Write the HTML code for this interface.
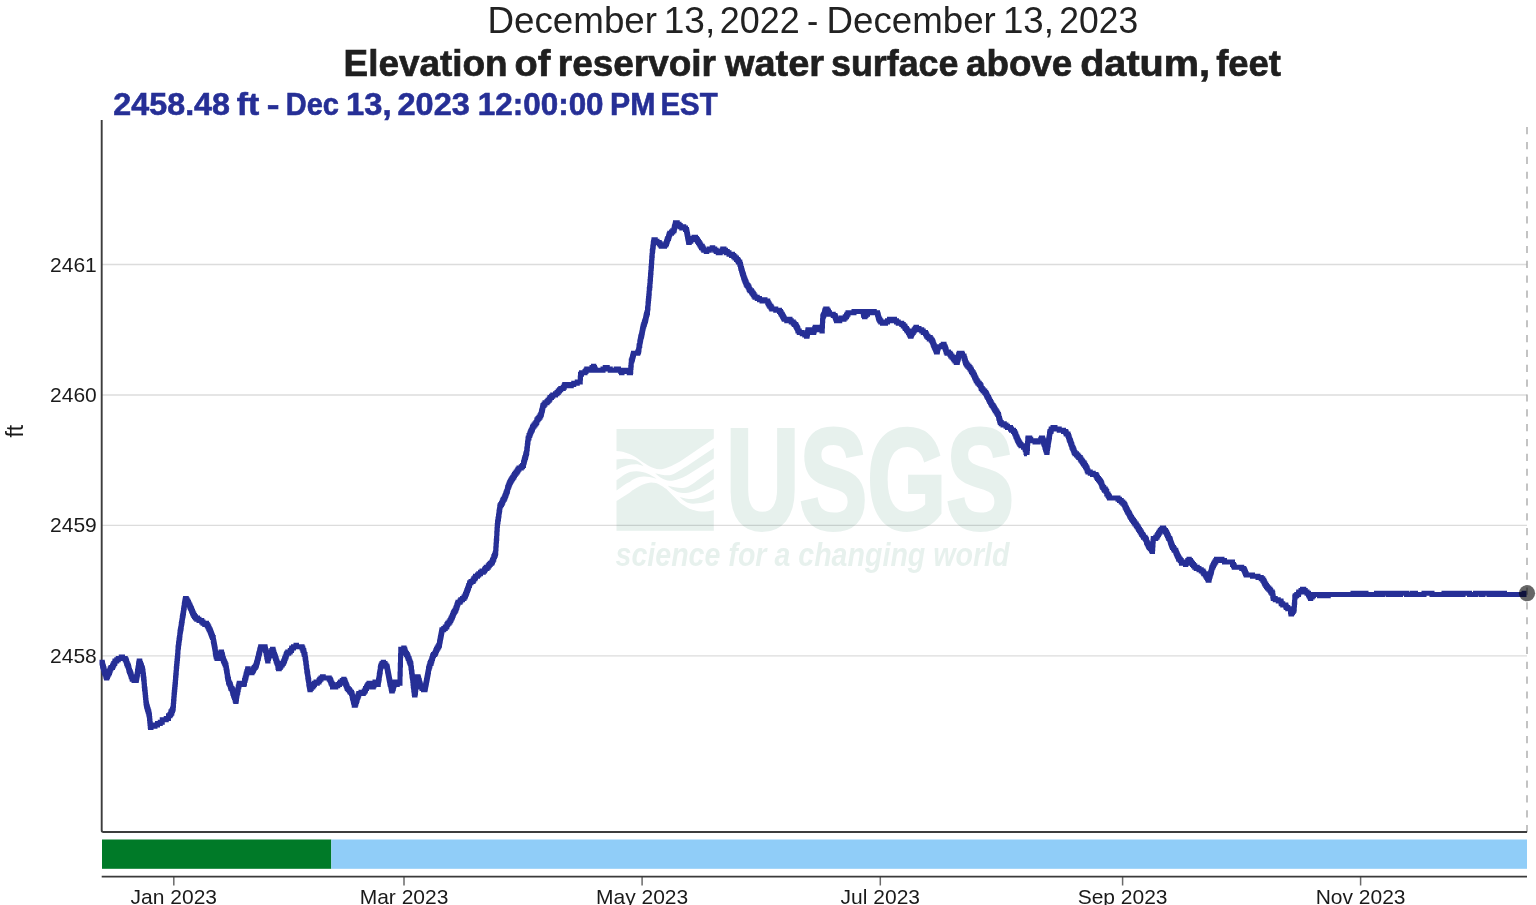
<!DOCTYPE html>
<html><head><meta charset="utf-8">
<style>
html,body{margin:0;padding:0;background:#fff;width:1536px;height:905px;overflow:hidden;}
svg{display:block;will-change:transform;font-family:"Liberation Sans",sans-serif;}
</style></head>
<body>
<svg width="1536" height="905" viewBox="0 0 1536 905">
<!-- titles -->
<g id="t1" font-size="37" font-weight="normal" fill="#222">
<text x="487.55" y="33.3" textLength="169.46" lengthAdjust="spacingAndGlyphs">December</text>
<text x="663.66" y="33.3" textLength="51.52" lengthAdjust="spacingAndGlyphs">13,</text>
<text x="719.77" y="33.3" textLength="79.87" lengthAdjust="spacingAndGlyphs">2022</text>
<text x="807.06" y="33.3" textLength="11.23" lengthAdjust="spacingAndGlyphs">-</text>
<text x="826.57" y="33.3" textLength="169.24" lengthAdjust="spacingAndGlyphs">December</text>
<text x="1002.93" y="33.3" textLength="50.94" lengthAdjust="spacingAndGlyphs">13,</text>
<text x="1059.37" y="33.3" textLength="78.86" lengthAdjust="spacingAndGlyphs">2023</text>
</g>
<g id="t2" font-size="37" font-weight="bold" fill="#1f1f1f" stroke="#1f1f1f" stroke-width="0.7">
<text x="343.56" y="75.8" textLength="164.08" lengthAdjust="spacingAndGlyphs">Elevation</text>
<text x="514.60" y="75.8" textLength="35.79" lengthAdjust="spacingAndGlyphs">of</text>
<text x="557.77" y="75.8" textLength="158.24" lengthAdjust="spacingAndGlyphs">reservoir</text>
<text x="725.00" y="75.8" textLength="98.99" lengthAdjust="spacingAndGlyphs">water</text>
<text x="830.99" y="75.8" textLength="127.43" lengthAdjust="spacingAndGlyphs">surface</text>
<text x="966.00" y="75.8" textLength="106.22" lengthAdjust="spacingAndGlyphs">above</text>
<text x="1080.15" y="75.8" textLength="129.92" lengthAdjust="spacingAndGlyphs">datum,</text>
<text x="1216.20" y="75.8" textLength="64.79" lengthAdjust="spacingAndGlyphs">feet</text>
</g>
<g id="t3" font-size="32" font-weight="bold" fill="#262f96" stroke="#262f96" stroke-width="0.6">
<text x="113.39" y="114.5" textLength="116.61" lengthAdjust="spacingAndGlyphs">2458.48</text>
<text x="236.82" y="114.5" textLength="22.39" lengthAdjust="spacingAndGlyphs">ft</text>
<text x="266.81" y="114.5" textLength="12.75" lengthAdjust="spacingAndGlyphs">-</text>
<text x="285.77" y="114.5" textLength="53.06" lengthAdjust="spacingAndGlyphs">Dec</text>
<text x="346.07" y="114.5" textLength="45.46" lengthAdjust="spacingAndGlyphs">13,</text>
<text x="397.48" y="114.5" textLength="72.32" lengthAdjust="spacingAndGlyphs">2023</text>
<text x="477.78" y="114.5" textLength="125.83" lengthAdjust="spacingAndGlyphs">12:00:00</text>
<text x="610.07" y="114.5" textLength="45.43" lengthAdjust="spacingAndGlyphs">PM</text>
<text x="660.40" y="114.5" textLength="57.21" lengthAdjust="spacingAndGlyphs">EST</text>
</g>


<!-- gridlines -->
<g stroke="#dcdcdc" stroke-width="1.3">
<line x1="102" y1="264.5" x2="1527" y2="264.5"/>
<line x1="102" y1="395" x2="1527" y2="395"/>
<line x1="102" y1="525.4" x2="1527" y2="525.4"/>
<line x1="102" y1="655.8" x2="1527" y2="655.8"/>
</g>

<!-- watermark -->
<g id="wm" fill="rgb(25,115,85)" opacity="0.1">
<path d="M616.5 429 H713.8 V438.4 L680 461.5 C672 466 664 469.5 659.4 469.3 C652 468.5 648 465.5 640 460.2 C633 455 625 451.5 616.5 451.1 Z"/>
<path d="M616.5 459.6 C625 458 633 459 636.6 460.6 C639.5 462 641.5 464 643.6 466.2 C640 464.8 638 464.2 636.6 464.2 C630 464 623 466 616.5 470 Z"/>
<path d="M616.5 480.3 C622 476 626 473 630 471.9 C636 470.5 642 471 648.6 473.9 C652 475.5 654.5 477 656.5 478.8 C653 477.5 648 476.3 643.3 476.5 C638 476.7 633 479 630 481.8 C625 484 621 487.5 616.5 490.6 Z"/>
<path d="M616.5 500.9 L630 492.4 C636 487.5 643 483.5 651.2 482.5 C658 482.5 662 486 666.4 489.1 C672 494.5 676 499 679.7 502.4 C686 507 690 509.5 693.6 510 C700 512 706 512 713.8 510.3 V530.7 H616.5 Z"/>
<path d="M655.2 473.2 C660 474.5 665 475.5 669.8 475.2 C675 474.5 680 470 686.3 466.6 L713.8 448.1 V458.4 L686.3 475.8 C682 478 675 481 669.8 480.8 C663 480 659 476.5 655.2 473.2 Z"/>
<path d="M667.8 485.8 C672 487 678 488.3 683 488.1 C688 487.5 692 484.5 700 478.5 L713.8 468.7 V479.1 L700 488.4 C696 490.5 690 493 683 493.1 C677 493 671 489 667.8 485.8 Z"/>
<path d="M679.7 497 C684 498.5 689 499.3 693 499 C700 498 706 494.5 713.8 489.4 V499.1 C706 503 700 503.5 693 503.7 C687 503.5 683 500.5 679.7 497 Z"/>
<text x="726" y="528.5" font-size="142" font-weight="bold" stroke="rgb(25,115,85)" stroke-width="4" stroke-linejoin="miter" textLength="288" lengthAdjust="spacingAndGlyphs">USGS</text>
<text x="615.5" y="565.5" font-size="33" font-weight="bold" font-style="italic" textLength="394" lengthAdjust="spacingAndGlyphs">science for a changing world</text>
</g>

<!-- y labels -->
<g font-size="21" fill="#1a1a1a" text-anchor="end">
<text x="96.8" y="271.5">2461</text>
<text x="96.8" y="402">2460</text>
<text x="96.8" y="532.4">2459</text>
<text x="96.8" y="662.8">2458</text>
</g>
<text x="23.3" y="431.2" font-size="23" fill="#1a1a1a" text-anchor="middle" transform="rotate(-90 23.3 431.2)">ft</text>

<!-- dashed right line -->
<line x1="1527" y1="127.1" x2="1527" y2="832.3" stroke="#aaa" stroke-width="1.4" stroke-dasharray="7.2 7.65"/>

<!-- axes -->
<path d="M101.7 120 V830.3 Q101.7 832 103.4 832 H1527" fill="none" stroke="#3d3d3d" stroke-width="1.9"/>

<!-- data line -->
<path id="data" d="M102 662.32H102.25V663.62H102.5V664.93H102.75V666.23H103H103.25V667.54H103.5V668.84H103.75H104V670.14H104.25V671.45H104.5V672.75H104.75H105V674.06H105.25H105.5H105.75V675.36H106V676.66H106.25H106.5V677.97H106.75V676.66H107H107.25H107.5V675.36H107.75H108V674.06H108.25H108.5H108.75V672.75H109H109.25H109.5V671.45H109.75V670.14H110H110.25V668.84H110.5H110.75H111V667.54H111.25H111.5H112H112.25H112.5V666.23H112.75H113V664.93H113.25H113.5H113.75V663.62H114.25H114.5H114.75V662.32H115V661.02H115.5H116H116.25H116.75V659.71H117.25H117.5H118H118.25V658.41H118.75H119.25H119.5H120H120.5H120.75H121.25V657.10H121.5V658.41H122V657.10H122.5V658.41H123H123.25H123.75H124.25H124.75H125.25V659.71H125.5H125.75H126V661.02H126.25H126.5V662.32H126.75V663.62H127H127.25V664.93H127.5H127.75H128V666.23H128.25H128.5V667.54H128.75V668.84H129V670.14H129.25H129.5V671.45H129.75H130V672.75H130.25H130.5V674.06H130.75H131V675.36H131.25V676.66H131.5H131.75H132V677.97H132.25V679.27H132.5H133H133.5H134V680.58H134.5H135.25H135.75H136.25V679.27H136.5V677.97H136.75V676.66H137V675.36H137.25V674.06H137.5V672.75V671.45H137.75V670.14H138V668.84H138.25V667.54H138.5V666.23V664.93H138.75V663.62H139V662.32H139.25V661.02H139.5H139.75V662.32H140V663.62H140.25H140.5V664.93H140.75H141H141.25V666.23H141.5V667.54H141.75H142V668.84H142.25H142.5V670.14H142.75V671.45H143V672.75V674.06H143.25V675.36H143.5V676.66V677.97H143.75V679.27H144V680.58V681.88H144.25V683.18V684.49V685.79H144.5V687.10V688.40H144.75V689.70H145V691.01V692.31H145.25V693.62V694.92H145.5V696.22V697.53H145.75V698.83V700.14H146V701.44V702.74H146.25V704.05H146.5V705.35H146.75V706.66H147H147.25V707.96H147.5V709.26H147.75H148V710.57H148.25V711.87H148.5H148.75V713.18H149V714.48H149.25V715.78H149.5V717.09V718.39H149.75V719.70V721.00H150V722.30V723.61H150.25V724.91V726.22H150.5V727.52H151V726.22H151.5H152H152.5H153V724.91H153.5H154H154.5V726.22H155V724.91H155.5H155.75H156.25H156.75H157.25H157.5V723.61H158H158.5H159H159.25H159.75H160.25V722.30H160.5H161H161.5H162H162.25V719.70H162.75H163.25H163.75H164H164.5H165H165.5H166H166.25V718.39H166.75H167.25H167.75H168H168.5V715.78H169H169.5H170V714.48H170.25H170.5H170.75V713.18H171V711.87H171.25V713.18H171.5H171.75V711.87H172V710.57H172.25H172.5V709.26H172.75H173V707.96H173.25V706.66V705.35H173.5V704.05V702.74V701.44H173.75V700.14V698.83H174V697.53V696.22V694.92H174.25V693.62V692.31H174.5V691.01V689.70H174.75V688.40V687.10H175V685.79V684.49H175.25V683.18V681.88H175.5V680.58V679.27V677.97H175.75V676.66V675.36H176V674.06V672.75H176.25V671.45V670.14V668.84H176.5V667.54V666.23H176.75V664.93V663.62H177V662.32V661.02H177.25V659.71V658.41H177.5V657.10V655.80H177.75V654.50V653.19V651.89H178V650.58V649.28V647.98H178.25V646.67H178.5V645.37V644.06H178.75V642.76H179V641.46V640.15H179.25V638.85H179.5V637.54H179.75V636.24V634.94H180V633.63V632.33H180.25V631.02H180.5V629.72H180.75V628.42H181V627.11H181.25V625.81V624.50H181.5V623.20H181.75V621.90H182V620.59H182.25V619.29V617.98H182.5V616.68H182.75V615.38H183V614.07H183.25V612.77H183.5V611.46V610.16H183.75V608.86H184V607.55H184.25V606.25V604.94H184.5V603.64H184.75V602.34H185V601.03H185.25V599.73H185.5V598.42H185.75H186H186.25V599.73H186.5H186.75H187V601.03H187.25H187.5H187.75V602.34H188H188.25H188.5V603.64H188.75H189V604.94H189.25H189.5H189.75V606.25H190H190.25V607.55H190.5H190.75V608.86H191H191.25H191.5V610.16H191.75H192V611.46H192.25H192.5V612.77H192.75H193V614.07H193.5H193.75V615.38H194H194.5V616.68H194.75H195H195.5V617.98H195.75H196H196.5H196.75V619.29H197V617.98H197.5V619.29H197.75H198H198.5H199V620.59H199.5H199.75H200.25H200.75H201.25H201.75V621.90H202H202.5H203V623.20H203.5H203.75H204.25H204.75V624.50H205.25H205.5V623.20H206H206.5V624.50H206.75H207H207.25V625.81H207.5H207.75H208V627.11H208.25H208.5H208.75V628.42H209H209.25V629.72H209.5H209.75H210V631.02H210.25H210.5V632.33H210.75H211V633.63H211.25H211.5V634.94H211.75H212V636.24H212.25H212.5V637.54H212.75H213H213.25V638.85V640.15H213.5V641.46H213.75V642.76H214V644.06H214.25V645.37H214.5V646.67H214.75V647.98H215V649.28H215.25V650.58V651.89H215.5V653.19H215.75V654.50H216V655.80H216.25V657.10H216.5H216.75H217V658.41H217.25H217.75H218V659.71V658.41H218.25H218.5H218.75V657.10H219H219.25V655.80H219.5H219.75H220V654.50H220.25H220.5V653.19H220.75H221V651.89H221.25H221.5V653.19H221.75V654.50H222H222.25V655.80H222.5V657.10H222.75V658.41H223H223.25V659.71H223.5V661.02H223.75H224H224.25V662.32H224.5H224.75V663.62H225H225.25V664.93H225.5H225.75H226V666.23V667.54H226.25V668.84H226.5V670.14H226.75V671.45H227V672.75H227.25V674.06V675.36H227.5V676.66H227.75V677.97H228V679.27H228.25H228.5V680.58V681.88H228.75H229V683.18H229.25H229.5H229.75V684.49H230H230.25V685.79H230.5V687.10H230.75H231V688.40H231.25H231.5H231.75H232V689.70H232.25H232.5V691.01H232.75V692.31H233V693.62H233.25H233.5V694.92H233.75H234V696.22H234.25H234.5V697.53H234.75H235V698.83H235.25V700.14H235.5H235.75V701.44H236V700.14H236.25V698.83H236.5V697.53V696.22H236.75V694.92H237V693.62H237.25V692.31H237.5H237.75V691.01V689.70H238H238.25V688.40V687.10H238.5H238.75V685.79H239V684.49H239.25V683.18H239.75H240.25V684.49H240.75H241.25H241.75H242.25H242.75H243.25H243.75H244V683.18H244.25H244.5V681.88V680.58H244.75H245V679.27H245.25V677.97H245.5H245.75V676.66H246V675.36H246.25V674.06H246.5H246.75V672.75H247V671.45H247.25H247.5V670.14H247.75V668.84H248.25V670.14H248.75H249.25H249.5H250V671.45H250.5H251H251.25H251.75V672.75H252V671.45H252.25H252.5H252.75V670.14H253H253.25H253.5V668.84H253.75H254H254.25V667.54H254.5H254.75H255H255.25V666.23H255.5H255.75H256V664.93H256.25H256.5V663.62H256.75V662.32H257H257.25V661.02H257.5V659.71H257.75V658.41H258H258.25V657.10H258.5V655.80H258.75V654.50H259V653.19H259.25H259.5V651.89H259.75V650.58H260V649.28H260.25H260.5V647.98H260.75V646.67H261.25V647.98H261.75H262.25V646.67H262.75H263.25H263.75H264.25H264.75H265V647.98H265.25V649.28H265.5V650.58H265.75H266V651.89H266.25V653.19H266.5V654.50H266.75V655.80V657.10H267H267.25V658.41H267.5V659.71H267.75V661.02H268V658.41H268.25H268.5V657.10H268.75H269V655.80H269.25H269.5H269.75H270H270.25V654.50H270.5H270.75H271V653.19V651.89H271.25H271.5H271.75V650.58H272H272.25H272.5V649.28H272.75H273V650.58H273.25V651.89H273.5H273.75V653.19H274V654.50H274.25H274.5V655.80H274.75H275V657.10H275.25H275.5V658.41H275.75H276V659.71H276.25V661.02H276.5H276.75V662.32H277H277.25V663.62H277.5H277.75V664.93H278V666.23V667.54H278.25H278.5V668.84H279H279.25V667.54H279.5H280H280.25V666.23H280.5H281V664.93H281.25H281.75H282H282.25V663.62H282.75H283H283.25V662.32H283.75V661.02H284H284.25H284.5V659.71H284.75V658.41H285H285.25V657.10H285.5H285.75H286V655.80H286.25V654.50H286.5H286.75V653.19H287H287.25H287.75V651.89H288V653.19H288.5H288.75V651.89H289.25H289.5H290H290.25V650.58H290.75H291H291.5V649.28H291.75V647.98H292.25H292.75H293H293.5V646.67H293.75H294.25H294.75H295H295.5H296V645.37H296.5V646.67H297H297.5H298H298.5H299H299.5H300H300.5H301H301.5H302V647.98H302.25H302.5H302.75V649.28H303V650.58H303.25H303.5H303.75V651.89H304V653.19H304.25V654.50H304.5H304.75H305V655.80V657.10H305.25V658.41H305.5V659.71H305.75V661.02V662.32H306V663.62H306.25V664.93V666.23H306.5V667.54H306.75V668.84V670.14H307V671.45H307.25V672.75H307.5V674.06H307.75V675.36V676.66H308V677.97H308.25V679.27H308.5V680.58H308.75V681.88V683.18H309V684.49H309.25V685.79H309.5V687.10H309.75V688.40H310V689.70H310.25V688.40H310.5H311H311.25V687.10H311.75H312H312.25H312.75V685.79H313H313.5H313.75V684.49H314H314.5V683.18H314.75H315.25H315.75H316V681.88H316.5V683.18H317H317.25V681.88H317.75H318.25H318.5H319V680.58H319.5H319.75V679.27H320.25H320.5H321V677.97H321.25H321.75H322H322.5V676.66H322.75H323.25V677.97H323.75H324.25H324.75H325.25H325.75H326.25H326.75H327.25H327.75H328.25H328.75H329H329.25V679.27H329.5H329.75H330H330.25V680.58H330.5H330.75V681.88H331H331.25V683.18H331.5H331.75H332V684.49H332.25H332.5V687.10H332.75H333.25H333.75H334.25H334.75H335.25H335.75V685.79H336.25H336.75H337H337.5H337.75V684.49H338.25H338.75H339H339.5V683.18H339.75H340.25H340.5V681.88H341H341.25H341.75H342.25V680.58H342.5H343H343.25H343.75V679.27H344V680.58H344.25H344.5H344.75V681.88H345H345.25V683.18H345.5H345.75V684.49H346H346.25V685.79H346.5H346.75V687.10H347H347.25V688.40H347.5H347.75H348.25V689.70H348.5H349H349.5V691.01H349.75H350.25V692.31H350.75H351.25H351.5V693.62H351.75H352V694.92H352.25V696.22H352.5V697.53H352.75V698.83H353H353.25V700.14H353.5V701.44H353.75V702.74H354H354.25V704.05V705.35H354.5H354.75H355H355.25V704.05H355.5H355.75V702.74H356V701.44H356.25H356.5V700.14H356.75H357V698.83H357.25V697.53H357.5H357.75V696.22H358H358.25V694.92H358.5H358.75V693.62H359H359.5H360H360.5H361V692.31H361.5H362H362.5V693.62H363H363.25V692.31H363.75H364H364.25V691.01H364.5H365H365.25V689.70H365.5V688.40H366H366.25H366.5V687.10H366.75H367H367.25V685.79H367.5H367.75H368V684.49H368.25H368.75H369V683.18H369.25H369.75V684.49H370H370.25H370.75V685.79H371H371.5H371.75H372.25V687.10H372.5H373H373.25V685.79H373.5H373.75H374V684.49H374.25H374.5V683.18H374.75H375V681.88H375.25V683.18H375.75H376H376.5H376.75V684.49H377.25H377.5H378V685.79V684.49H378.25V683.18V681.88H378.5V680.58H378.75V679.27H379V677.97H379.25V676.66V675.36H379.5V674.06H379.75V672.75H380V671.45H380.25V670.14V668.84H380.5V667.54H380.75V666.23H381H381.25V664.93H381.75H382V663.62H382.5H382.75H383.25V662.32H383.5V663.62H384H384.25H384.5H385V664.93H385.25H385.75H386V666.23H386.5H386.75H387V667.54H387.25V668.84H387.5V670.14H387.75V671.45H388V672.75H388.25V674.06H388.5V675.36H388.75V676.66H389V677.97H389.25V679.27H389.5V680.58H389.75V681.88H390V683.18H390.25V684.49H390.5H390.75V685.79H391V687.10H391.25V688.40H391.5V689.70H391.75V691.01H392H392.25V689.70H392.5H392.75V688.40H393H393.25V687.10H393.5V685.79H393.75H394V684.49H394.25V683.18H394.5H394.75V681.88H395.25H395.75V683.18H396.25H396.5V684.49H397H397.5H398H398.5H399H399.25H399.75V685.79V684.49V683.18H400V681.88V680.58V679.27V677.97V676.66V675.36V674.06H400.25V672.75V671.45V670.14V668.84V667.54V666.23V664.93H400.5V663.62V662.32V661.02V659.71V658.41V657.10V655.80H400.75V654.50V653.19V651.89V650.58V649.28H401.25V650.58H401.75H402.25H402.75H403.25V649.28H403.75V647.98H404V649.28H404.25H404.5H404.75V650.58H405V651.89H405.25H405.5V653.19H405.75H406H406.25H406.5V654.50H406.75H407H407.25V655.80H407.5H407.75V657.10H408H408.25V658.41H408.5H408.75H409V659.71H409.25V661.02H409.5H409.75V662.32H410H410.25V663.62H410.5H410.75V664.93H411V666.23V667.54H411.25V668.84H411.5V670.14V671.45H411.75V672.75H412V674.06V675.36H412.25V676.66H412.5V677.97H412.75V679.27V680.58H413V681.88V683.18H413.25V684.49V685.79H413.5V687.10H413.75V688.40V689.70H414V691.01H414.25V692.31V693.62H414.5V694.92H414.75V696.22V694.92H415V693.62H415.25V692.31H415.5V691.01V689.70H415.75V687.10H416V685.79H416.25V684.49H416.5V683.18H416.75V681.88V680.58H417H417.25V679.27V677.97H417.5V676.66H417.75V675.36V676.66H418V677.97H418.25H418.5V679.27H418.75V680.58H419H419.25V681.88H419.5V683.18H419.75H420V684.49H420.25V685.79H420.5H420.75V687.10H421H421.5H422V688.40H422.25H422.75H423H423.5V689.70H424H424.25H424.75H425V688.40H425.25V687.10H425.5V685.79H425.75V684.49H426V683.18H426.25V681.88H426.5V680.58H426.75V679.27H427V677.97H427.25V676.66H427.5V675.36H427.75V674.06H428V672.75H428.25V671.45H428.5V670.14V668.84H428.75H429V667.54H429.25V666.23H429.5H429.75V664.93H430V663.62H430.25H430.5V662.32H430.75V663.62H431V662.32H431.25V661.02H431.5H431.75V659.71H432V658.41H432.25H432.5V657.10H432.75V655.80H433H433.25H433.5V654.50H433.75H434H434.25H434.5H434.75V653.19H435H435.25H435.5V651.89H435.75H436V650.58H436.25H436.5V649.28H436.75H437H437.25V647.98H437.5H437.75H438V646.67H438.25H438.5H438.75V645.37H439H439.25H439.5V644.06V642.76H439.75V641.46H440V640.15H440.25V638.85H440.5V637.54H440.75V636.24H441V634.94H441.25V633.63H441.5V632.33H441.75V631.02H442V629.72H442.25H442.75H443H443.5H443.75V628.42H444.25H444.5H445H445.25V627.11H445.5H446H446.25H446.75V625.81H447V624.50H447.5H447.75V623.20H448.25H448.5H448.75H449V621.90H449.25H449.5H449.75H450V620.59H450.25H450.5H450.75V619.29H451H451.25V617.98H451.5H451.75H452V616.68H452.25H452.5V615.38H452.75H453V614.07H453.25H453.5V612.77H453.75H454H454.25V611.46H454.5H454.75H455V610.16H455.25V611.46V610.16H455.5H455.75V608.86H456H456.25V607.55H456.5H456.75V606.25H457V604.94H457.25H457.5V603.64H457.75H458V602.34H458.25H458.75H459.25H459.5H460V601.03H460.5H460.75V599.73H461.25H461.5H462H462.5V598.42H462.75H463.25H463.75H464V597.12H464.5H464.75H465V595.82H465.25H465.5V594.51H465.75H466V593.21H466.25H466.5V591.90H466.75H467V590.60H467.25H467.5V589.30H467.75H468V587.99H468.25H468.5V586.69H468.75V585.38H469H469.25H469.5V584.08H469.75V582.78H470H470.5H470.75H471V581.47H471.25H471.75H472H472.25H472.5H473V580.17H473.25H473.5H473.75V578.86H474.25H474.5H474.75H475V577.56H475.5V576.26H476H476.25H476.75H477.25H477.5V574.95H478H478.25H478.75V573.65H479.25H479.5H480H480.5V572.34H480.75H481.25H481.5H482V571.04H482.5V572.34H482.75H483.25V571.04H483.75H484H484.5V569.74H485H485.25V568.43H485.75H486H486.25V567.13H486.75V568.43H487V567.13H487.25H487.75H488H488.25V565.82H488.75H489H489.25V564.52H489.75H490H490.25V563.22H490.75H491H491.25H491.75V561.91H492H492.25H492.5V560.61H492.75H493V559.30H493.25H493.5H493.75V558.00V556.70H494H494.25H494.5V555.39H494.75H495V554.09H495.25H495.5V552.78H495.75V551.48V550.18V548.87H496V547.57V546.26V544.96H496.25V543.66V542.35V541.05H496.5V539.74V538.44H496.75V537.14V535.83V534.53V533.22H497V531.92V530.62V529.31H497.25V528.01V526.70V525.40H497.5V524.10V522.79H497.75V521.49H498V520.18V518.88H498.25H498.5V517.58V516.27H498.75V514.97H499V513.66V512.36H499.25V511.06H499.5V509.75H499.75V508.45V507.14H500V505.84H500.25H500.5H500.75V504.54H501H501.25H501.5V503.23H501.75H502H502.25V501.93H502.5H502.75V500.62H503H503.25V499.32H503.5H503.75H504H504.25V498.02H504.5H504.75V496.71H505H505.25V495.41H505.5H505.75V494.10H506H506.25V492.80H506.5H506.75V491.50H507H507.25V490.19H507.5V488.89H507.75V487.58H508H508.25V486.28H508.5H508.75V484.98H509H509.25V483.67H509.5H509.75V482.37H510H510.25H510.5V481.06H510.75H511H511.25V479.76H511.5H511.75H512V478.46H512.25H512.5H512.75V477.15H513H513.25H513.5H513.75V475.85H514H514.25H514.5V474.54H514.75H515H515.25V473.24H515.5H515.75H516H516.25V471.94H516.5H516.75H517.25V470.63H517.5H518V469.33H518.25H518.75H519V468.02H519.5H519.75H520.25H520.5H521H521.25V466.72H521.75H522H522.5V465.42H522.75H523.25H523.5V462.81H523.75H524V461.50H524.25V460.20H524.5V458.90H524.75H525V457.59H525.25H525.5V456.29H525.75V454.98H526V453.68H526.25H526.5V452.38H526.75V451.07V449.77H527V448.46H527.25V447.16V445.86H527.5V444.55V443.25H527.75V441.94H528V440.64V439.34H528.25V438.03H528.5H528.75H529V436.73V435.42H529.25H529.5H529.75V434.12H530H530.25V432.82H530.5H530.75V431.51H531H531.25V430.21H531.5H531.75H532V428.90H532.25H532.5V427.60H532.75H533V426.30H533.5H533.75H534V424.99H534.25H534.5H534.75H535V423.69H535.5H535.75H536V422.38H536.25H536.5H536.75V421.08H537V419.78H537.5H537.75H538V418.47H538.25H538.5H538.75H539V417.17H539.25H539.75H540V415.86H540.25H540.5H540.75V414.56H541H541.25V413.26H541.5V411.95H541.75V410.65H542H542.25V409.34H542.5V408.04H542.75V406.74H543V405.43H543.5H543.75H544V404.13H544.5H544.75H545V402.82H545.5H545.75H546H546.5H546.75H547V401.52H547.25H547.75H548V400.22H548.5H549H549.25V398.91H549.75H550V397.61H550.5H550.75H551.25H551.5V396.30H552H552.5H552.75V395.00H553.25H553.5H554H554.25H554.75H555H555.5V393.70H555.75H556.25H556.75H557V392.39H557.5H557.75H558.25V391.09H558.75H559H559.5V389.78H560H560.5H560.75V388.48H561.25H561.75H562H562.5H562.75H563.25V387.18H563.5H564H564.25V385.87H564.75V384.57H565H565.5H566H566.5V385.87H567H567.5H568H568.5V384.57H569H569.75H570.25H570.75V385.87H571.25V384.57H571.75H572.25H572.75H573.25H573.75V383.26H574.25H574.75H575.25H575.75H576.25H576.75H577.25V381.96H577.75H578.25H578.75H579.25H579.75H580.25V380.66V379.35V378.05H580.5V376.74V375.44V374.14H581H581.5V372.83H582H582.5H583H583.5H584H584.5H585V371.53H585.25H585.5H586V370.22H586.25H586.5H586.75V368.92H587.25H587.75V370.22H588.25H589H589.5H589.75H590.25H590.5H591V368.92H591.25H591.75H592V367.62H592.25H592.75H593H593.5V366.31H593.75V367.62H594H594.25H594.5V368.92H594.75H595H595.25V370.22H595.5H595.75H596.25H596.75H597.25H597.75H598.25H598.75H599.25H599.75H600.25H600.75H601.5H602H602.5H603V368.92H603.25H603.75H604.25H604.75H605.25V367.62H605.75H606.25H606.75H607.25V368.92H607.75H608.25H608.5H609H609.5H610H610.25V370.22H610.75H611.25H611.75H612.25H612.5H613H613.5H614H614.5H615H615.5H616H616.25V368.92H616.75H617.25H617.75H618H618.5V370.22H618.75H619.25H619.75H620H620.5H620.75V371.53H621.25H621.5V372.83H622V371.53H622.25H622.75H623.25V370.22H623.5H624H624.25H624.75H625.25H625.75V371.53H626H626.5V370.22H627V371.53H627.5H627.75H628.25H628.75H629.25V372.83H629.5H630H630.5V371.53H630.75V370.22V368.92V367.62H631V366.31V365.01H631.25V363.70V362.40V361.10H631.5H631.75V359.79H632H632.25V358.49H632.5V357.18H632.75V355.88H633H633.25V354.58H633.5V353.27H634H634.5H635.25H635.75H636.25H636.75H637.25H637.75V351.97H638.25H638.5V350.66H638.75V349.36H639V348.06V346.75H639.25V345.45H639.5H639.75V344.14V342.84H640V341.54H640.25V340.23H640.5V338.93H640.75V337.62H641V336.32H641.25H641.5V335.02H641.75V333.71H642V332.41H642.25V331.10H642.5V329.80H642.75V328.50H643V327.19H643.25V325.89H643.5H643.75V324.58H644H644.25V323.28H644.5V321.98H644.75H645V320.67H645.25H645.5V319.37H645.75V318.06H646V316.76H646.25V315.46H646.5V314.15H646.75H647V312.85H647.25H647.5V311.54V310.24V308.94H647.75V307.63H648V306.33V305.02V303.72H648.25V302.42V301.11H648.5V299.81V298.50H648.75V297.20V295.90H649V294.59V293.29H649.25V291.98V290.68V289.38H649.5V290.68V289.38V288.07H649.75V286.77V285.46H650V284.16V282.86V281.55H650.25V280.25V278.94H650.5V277.64V276.34V275.03H650.75V273.73V272.42H651V271.12V269.82V268.51H651.25V267.21V265.90H651.5V264.60V263.30V261.99H651.75V260.69V259.38V258.08H652V256.78V255.47H652.25V254.17V252.86V251.56H652.5V250.26H652.75V248.95V247.65H653V246.34H653.25V245.04V243.74H653.5V242.43H653.75V241.13H654V239.82H654.5H655H655.25V241.13H655.75H656.25H656.75H657V242.43H657.5H658H658.5H659H659.25V243.74H659.75H660H660.25V245.04H660.75H661H661.25V246.34H661.5H661.75H662H662.25H662.75H663H663.5V245.04H663.75H664.25V246.34H664.5V245.04H665H665.25H665.75V243.74H666H666.5V242.43H666.75V241.13H667H667.25V239.82H667.5H667.75V238.52H668H668.25H668.5V237.22H668.75V235.91H669H669.25V234.61H669.5H669.75V233.30H670.25H670.5H671H671.5V232.00H671.75H672.25H672.75V230.70H673H673.5H674V229.39H674.25V228.09H674.5V226.78H674.75H675V225.48H675.25V224.18H675.5V222.87H676H676.5H676.75H677.25V224.18H677.75H678H678.5H679V225.48H679.25H679.75H680.25V226.78H680.5H681H681.5H681.75V228.09H682.25H682.75H683.25V226.78H683.75V228.09H684.25H684.5H685H685.5V229.39H686H686.5V230.70H686.75V232.00H687V233.30H687.25V234.61H687.5V235.91H687.75V237.22H688V238.52H688.25V239.82H688.5V241.13H688.75V242.43H689.25V241.13H689.5H690H690.25H690.75V239.82H691.25H691.5H692H692.25V238.52H692.75H693.25H693.5H694V237.22H694.25H694.75H695H695.25H695.5V238.52H696H696.25H696.5V239.82H696.75H697.25H697.5V241.13H697.75H698H698.5V242.43H698.75H699H699.25V243.74H699.5H699.75H700V245.04H700.25H700.5H700.75V246.34H701H701.25H701.5V247.65H701.75V246.34H702.25V247.65H702.5H702.75H703V248.95H703.25H703.5H703.75V250.26H704H704.25H704.5H705H705.5H705.75H706.25V251.56H706.75V250.26H707.25H707.75H708.25H708.75H709.25V248.95H709.75H710.25H710.75H711.25H711.75H712.25V247.65H712.75V248.95H713.25H713.5H714H714.5H714.75V250.26H715.25H715.5H716H716.25V251.56H716.75H717.25H717.5H718H718.25V252.86H718.75H719H719.5H720H720.25V251.56H720.75H721H721.5H722V250.26H722.25H722.75V248.95H723H723.5H724V250.26H724.25H724.75H725.25H725.5V251.56H726H726.25V252.86H726.75V251.56H727.25V252.86H727.5H728H728.5H729V254.17H729.25H729.75H730.25H730.75H731H731.5V255.47H732V254.17H732.5V255.47H733H733.25H733.75V256.78H734.25H734.5H735V258.08H735.25H735.75H736H736.5V259.38H736.75H737.25H737.5H737.75V260.69H738.25H738.5V261.99H739H739.25H739.75V263.30H740V264.60H740.25H740.5V265.90H740.75V267.21H741V268.51H741.25H741.5V269.82H741.75V271.12H742H742.25V272.42H742.5V273.73H742.75H743V275.03H743.25H743.5V276.34H743.75V277.64H744H744.25V278.94H744.5H744.75V280.25H745H745.25V281.55H745.5H745.75V282.86H746H746.25V284.16H746.5H746.75H747V285.46H747.25H747.5H747.75H748V286.77H748.25H748.5H748.75V288.07H749H749.25V289.38H749.5H749.75H750V290.68H750.25H750.5H750.75H751H751.5V291.98H751.75H752H752.25V293.29H752.5H752.75H753.25V294.59H753.5H753.75H754V295.90H754.25H754.5H755V297.20H755.25H755.75H756.25H756.75H757.25V298.50H757.5H758H758.5H759H759.5V299.81H760H760.5H761H761.5H762V301.11H762.5H763V299.81H763.5H764H764.5H765V301.11H765.25H765.75H766.25H766.75H767.25H767.5H767.75V302.42H768H768.25V303.72H768.5H768.75H769V305.02H769.25H769.5H769.75V306.33H770H770.25H770.5H770.75H771V307.63H771.25H771.5H771.75V308.94H772.25H772.75H773.25H773.75H774.25H774.75H775.25H775.75V310.24H776.25H776.5H777H777.5H778H778.5H779H779.5V311.54H779.75H780H780.5V312.85H780.75H781H781.25V314.15H781.5H781.75H782.25V315.46H782.5H782.75V316.76H783H783.25H783.5V318.06H784H784.25V319.37H784.75H785.25H785.75H786.25H786.75V320.67H787.25V319.37H787.5H788H788.5H789H789.5H790V320.67H790.5H790.75H791.25V321.98H791.75H792.25H792.75H793.25V323.28H793.5H794H794.25V324.58H794.5H794.75H795H795.5H795.75V325.89H796H796.25H796.5V327.19H797H797.25V328.50H797.5H797.75V329.80H798V331.10H798.25H798.75H799.25V332.41H799.75H800.25H800.75H801.25H801.75H802.25V333.71H802.75H803H803.5H804H804.25H804.75V335.02H805.25H805.5H806H806.5V336.32H807V335.02H807.25V333.71H807.5V332.41H807.75V331.10H808V329.80H808.25H808.75H809.25H809.75V331.10H810.25H810.5H811H811.5H812H812.5V332.41H813H813.5H813.75V331.10H814H814.25V329.80H814.5H814.75V328.50H815H815.25V327.19H815.5H816H816.5H817H817.5V328.50H817.75H818.25H818.75H819.25H819.75V329.80H820.25H820.75H821.25H821.75H822V331.10H822.25V329.80V328.50V327.19V325.89H822.5V324.58V323.28V321.98V320.67H822.75V319.37V318.06V316.76H823H823.25V315.46H823.5H823.75V314.15H824H824.25H824.5V312.85H824.75V311.54H825V310.24H825.25H825.5H825.75V308.94H826H826.5H826.75H827V310.24H827.5H827.75H828V311.54H828.5V312.85H828.75H829H829.5V314.15H829.75H830H830.5H831H831.75H832.25H832.75H833.25V315.46H833.75H834.25H834.75H835V316.76H835.25H835.5V318.06H835.75H836V319.37H836.25H836.5V320.67H836.75H837.25H837.75H838.25H838.75H839.25H839.75V319.37H840.25H840.75H841.25V318.06H841.75H842.25H843H843.5V319.37H843.75H844V318.06H844.5H844.75H845.25V316.76H845.5H846H846.25H846.5V315.46H847V314.15H847.25H847.75H848V312.85H848.5H849H849.5H850H850.5H851H851.5H852H852.5H853H853.5H854V311.54H854.5H855H855.5H856H856.5H857.25H857.75H858.25H858.75H859.25H859.75H860.25H860.75H861.25H861.75H862.25H862.75H863.25V312.85H863.5V314.15H863.75V315.46H864H864.25H864.5V316.76H865V315.46H865.25H865.75H866V314.15H866.5H866.75H867.25H867.5V312.85H868V311.54H868.25H868.5H869H869.75V312.85H870.25H870.75H871.25H871.75H872.25H872.75H873.25H873.75V311.54H874.25V312.85H875H875.5H876H876.5H877H877.5V314.15H877.75H878V315.46H878.25V316.76H878.5V318.06H878.75H879V319.37H879.25H879.5H879.75V320.67H880.25H880.5H880.75V321.98H881H881.5H881.75H882H882.5V323.28H882.75H883.25H883.75H884.25H884.5H885H885.5V321.98H886H886.5H887H887.5V320.67H888H888.5H889H889.5V319.37H890H890.5H891H891.5H892H892.5H893H893.5H894H894.5V320.67H895H895.5H896H896.5V321.98H896.75H897.25H897.75H898.25V323.28H898.75H899H899.5H900H900.5H900.75H901.25H901.75V324.58H902H902.5H902.75H903.25V325.89H903.5H904H904.25H904.75V327.19H905.25V328.50H905.5H906H906.25H906.5V329.80H906.75H907H907.25V331.10H907.5H907.75H908H908.25H908.5V332.41H908.75H909H909.25V333.71H909.5H909.75V335.02H910H910.25H910.5V336.32H911V335.02H911.25H911.5V333.71H911.75H912H912.25V332.41H912.5H913H913.25V331.10H913.5H913.75H914H914.25V329.80H914.5H914.75H915.25V328.50H915.5H915.75H916V327.19H916.5V328.50H917H917.5H918H918.5H919V329.80H919.5H920H920.5H921H921.5H921.75V331.10H922.25H922.5H922.75H923.25V332.41H923.5H924H924.25H924.75H925H925.5V333.71H925.75H926.25V335.02H926.5H926.75V336.32H927.25H927.5H928V337.62H928.25H928.5H929H929.25V338.93H929.5V337.62H930H930.25V338.93H930.5H931H931.25V340.23H931.5H931.75H932.25V341.54H932.5H932.75V342.84H933H933.25V344.14H933.5H933.75V345.45H934H934.25V346.75H934.5H934.75V348.06H935H935.25H935.5V349.36H935.75H936V350.66H936.25H936.5V351.97H936.75H937H937.25V350.66H937.5V349.36H937.75V348.06H938H938.25V346.75H938.5H939H939.5H940H940.5H941H941.75V345.45H942.25H942.75H943.25V344.14H943.75H944V345.45H944.25V346.75H944.5H944.75H945V348.06H945.25H945.5V349.36H945.75H946V350.66H946.25V351.97H946.5H947V353.27H947.25H947.75H948V351.97H948.5V353.27H948.75H949.25H949.75H950V354.58H950.5H950.75V355.88H951.25H951.5H952V357.18H952.25H952.75H953H953.25V358.49H953.75H954V359.79H954.25H954.75H955V361.10H955.25H955.75H956H956.25V362.40H956.75H957H957.25V361.10H957.5V359.79H957.75H958V358.49H958.25V357.18H958.5V355.88H958.75V354.58H959H959.25V353.27H959.75H960.25H960.75H961.25H961.5H962V354.58H962.5V355.88H963H963.5H964V357.18H964.25V358.49H964.5H964.75V359.79H965V361.10H965.25H965.5V362.40H965.75H966V363.70H966.5H966.75V365.01H967H967.5H967.75V366.31H968H968.25H968.75H969V367.62H969.25H969.75H970V368.92H970.25H970.75H971V370.22H971.25H971.5V371.53H971.75H972H972.25V372.83H972.5H972.75H973H973.25V374.14H973.5H973.75H974V375.44H974.25H974.5V376.74H974.75H975V378.05H975.25H975.5H975.75V379.35H976H976.25V380.66H976.5H977H977.25V381.96H977.5H977.75H978V383.26H978.25H978.75H979H979.25V384.57H979.5H979.75H980.25V385.87H980.5H980.75H981V387.18H981.25V388.48H981.5H982H982.25V389.78H982.5H982.75H983H983.25V391.09H983.75H984H984.25H984.5H984.75V392.39H985H985.25H985.75V393.70H986H986.25H986.5V395.00H986.75H987V396.30H987.25H987.5H987.75V397.61H988H988.25H988.5V398.91H988.75H989H989.25V400.22H989.5H989.75V401.52H990H990.25H990.5V402.82H990.75H991H991.25V404.13H991.5H991.75H992V405.43H992.25H992.5H993V406.74H993.25H993.5H993.75V408.04H994H994.25H994.5V409.34H994.75H995H995.25V410.65H995.5H996H996.25V411.95H996.5H996.75H997V413.26H997.25H997.5H997.75V414.56H998H998.25H998.5V415.86H998.75V417.17H999V418.47H999.25H999.5V419.78H999.75V421.08H1000H1000.25V422.38H1000.5H1000.75H1001.25V423.69H1001.75H1002.25H1002.5H1003V424.99H1003.5V423.69H1004H1004.25V424.99H1004.75H1005.25H1005.75H1006V426.30H1006.5H1007H1007.5V427.60H1008H1008.25H1008.75H1009.25H1009.75H1010H1010.5V428.90H1011H1011.5V430.21H1011.75H1012.25H1012.75H1013.25H1013.5V431.51H1013.75H1014H1014.25H1014.5V432.82H1014.75H1015V434.12H1015.25H1015.5H1015.75V435.42H1016V436.73H1016.25H1016.5H1016.75V438.03H1017H1017.25V439.34H1017.5H1017.75V440.64H1018H1018.25H1018.5V441.94H1018.75H1019H1019.25V443.25H1019.5H1019.75H1020V444.55H1020.25H1020.5H1021V445.86H1021.5H1021.75H1022.25H1022.75H1023H1023.5V447.16H1024H1024.25H1024.75H1025V448.46H1025.25V449.77H1025.5H1025.75H1026V451.07V452.38H1026.25H1026.5V453.68H1026.75H1027V454.98V453.68V452.38V451.07H1027.25V449.77V448.46H1027.5V447.16V445.86V444.55V443.25H1027.75V441.94V440.64V439.34H1028V438.03H1028.5H1029H1029.5H1029.75V439.34H1030.25H1030.75V440.64H1031.25H1031.75H1032.25H1032.75H1033H1033.5H1034H1034.5H1035V441.94H1035.5H1035.75H1036.25H1036.75H1037.25H1037.5H1038H1038.25V440.64H1038.75H1039.25H1039.5H1040H1040.25H1040.75V439.34H1041H1041.5V438.03H1042H1042.25H1042.5V439.34H1042.75H1043V440.64H1043.25H1043.5V441.94H1043.75V443.25H1044H1044.25V444.55H1044.5H1044.75V445.86H1045V447.16H1045.25H1045.5V448.46H1045.75V449.77H1046H1046.25V451.07H1046.5H1046.75V452.38H1047V451.07H1047.25V449.77V448.46H1047.5V447.16H1047.75V445.86H1048V444.55H1048.25V443.25V441.94H1048.5V440.64H1048.75V439.34H1049V438.03H1049.25V436.73H1049.5V435.42V434.12H1049.75V432.82H1050V431.51H1050.5H1051V430.21H1051.25V428.90H1051.75H1052H1052.5H1053V427.60H1053.25H1053.75H1054H1054.5H1055V428.90H1055.5H1056H1056.25H1056.75H1057.25H1057.75H1058.25H1058.75H1059.25V430.21H1059.75H1060H1060.5H1061H1061.5H1062H1062.5H1063H1063.5V431.51H1064H1064.25H1064.75H1065.25H1065.75V432.82H1066.25V434.12H1066.75H1067.25H1067.75H1068V435.42H1068.25H1068.5V436.73H1068.75H1069V438.03H1069.25V439.34H1069.5H1069.75V440.64H1070H1070.25H1070.5V441.94H1070.75V443.25H1071H1071.25V444.55H1071.5H1071.75V445.86H1072V447.16H1072.25H1072.5H1072.75V448.46H1073H1073.25V449.77H1073.5H1073.75V451.07H1074H1074.25V452.38H1074.5H1074.75H1075V453.68H1075.25H1075.5H1075.75H1076.25H1076.5V454.98H1077H1077.25H1077.75V456.29H1078H1078.5H1078.75V457.59H1079.25H1079.5H1080H1080.25V458.90H1080.5H1081V460.20H1081.25H1081.75H1082V461.50H1082.25H1082.5H1082.75V462.81H1083H1083.25H1083.5V464.11H1083.75V462.81H1084V464.11H1084.25H1084.5H1084.75V465.42H1085H1085.25H1085.5V466.72H1085.75H1086H1086.25V468.02H1086.5H1086.75H1087V469.33H1087.25V470.63H1087.5H1087.75H1088V471.94H1088.25H1088.75H1089.25H1089.75H1090.25V473.24H1090.5H1091H1091.5H1092H1092.5V474.54H1093V473.24H1093.25V474.54H1093.75H1094.25H1094.75H1095.25H1095.5H1096V475.85H1096.25H1096.5H1096.75V477.15H1097H1097.25H1097.5V478.46H1097.75H1098.25H1098.5V479.76H1098.75H1099H1099.25H1099.5V481.06H1099.75H1100H1100.5V482.37H1100.75H1101H1101.25V483.67H1101.5H1101.75V484.98H1102V486.28H1102.25H1102.5H1102.75V487.58H1103.25H1103.5H1103.75V488.89H1104H1104.25H1104.5V490.19H1104.75H1105V488.89H1105.25V490.19H1105.5H1105.75H1106V491.50H1106.25H1106.5H1106.75V494.10H1107H1107.5H1107.75H1108V495.41H1108.25H1108.5H1108.75V496.71H1109H1109.25H1109.5V498.02H1110H1110.5H1111H1111.5H1112H1112.5H1113.25H1113.75H1114.25H1114.75H1115.25H1115.75H1116.25H1116.75H1117.25H1117.75H1118V499.32H1118.5H1118.75H1119H1119.5V500.62H1119.75H1120.25H1120.5H1121H1121.25V501.93H1121.75H1122H1122.5H1122.75V503.23H1123.25H1123.5H1123.75H1124V504.54H1124.25H1124.5H1124.75V505.84H1125H1125.25V507.14H1125.5H1125.75H1126V508.45H1126.25H1126.5V509.75H1126.75H1127H1127.25V511.06H1127.5H1127.75V512.36H1128H1128.25H1128.75V513.66H1129H1129.25H1129.5V514.97H1129.75H1130V516.27H1130.25H1130.5H1130.75V517.58H1131H1131.25H1131.5V518.88H1131.75H1132.25H1132.5V520.18H1132.75H1133H1133.25H1133.5V521.49H1133.75H1134H1134.25V522.79H1134.5H1134.75H1135V524.10H1135.25H1135.75H1136H1136.25V525.40H1136.5H1136.75H1137V526.70H1137.5H1137.75H1138V528.01H1138.25H1138.5V529.31H1138.75H1139.25H1139.5V530.62H1139.75H1140H1140.25V531.92H1140.75H1141H1141.25V533.22H1141.5H1141.75V534.53H1142H1142.5H1142.75V535.83H1143H1143.25H1143.5V537.14H1143.75H1144H1144.25H1144.5H1144.75H1145V538.44H1145.25H1145.5H1145.75V539.74H1146H1146.25H1146.5V542.35H1146.75H1147H1147.25V543.66H1147.5H1147.75H1148V544.96H1148.25H1148.5V546.26H1148.75H1149H1149.25V547.57H1149.5H1150H1150.25V548.87H1150.5V547.57H1150.75V548.87H1151H1151.25H1151.5V550.18H1151.75H1152H1152.25V551.48H1152.5V550.18V548.87H1152.75V547.57V546.26V544.96H1153V543.66V542.35V541.05H1153.25V539.74V538.44H1153.75H1154H1154.5H1155H1155.25H1155.75V537.14H1156.25H1156.5H1157V535.83H1157.25H1157.5H1157.75V534.53H1158H1158.5V533.22H1158.75H1159H1159.25V531.92H1159.5H1160H1160.25V530.62H1160.5H1161H1161.25V529.31H1161.75H1162H1162.5V528.01H1162.75H1163H1163.5V529.31H1163.75H1164H1164.25V530.62H1164.75H1165H1165.25H1165.5V531.92H1166H1166.25H1166.5V533.22H1166.75H1167V534.53H1167.25H1167.5V535.83H1167.75H1168H1168.25V537.14H1168.5H1168.75V538.44H1169H1169.5H1169.75V539.74H1170H1170.25V541.05H1170.5V542.35H1170.75H1171V543.66H1171.25H1171.5V544.96H1171.75H1172V546.26H1172.25H1172.5V547.57H1172.75H1173.25H1173.5V548.87H1173.75H1174H1174.25V550.18H1174.5H1174.75H1175.25H1175.5H1175.75V551.48H1176V552.78H1176.25H1176.5V554.09H1176.75H1177H1177.25V555.39H1177.5H1177.75V556.70H1178H1178.25H1178.5V558.00H1178.75V559.30H1179V558.00H1179.25V559.30H1179.5H1180H1180.25V560.61H1180.5H1181H1181.25V561.91H1181.5V563.22H1182H1182.5H1182.75H1183.25H1183.75H1184.25H1184.75H1185.25H1185.5V564.52H1185.75V563.22H1186H1186.25H1186.5V561.91H1186.75H1187H1187.5H1187.75V560.61H1188H1188.25H1188.5H1188.75H1189V559.30H1189.25V560.61H1189.5H1189.75H1190H1190.5V561.91H1190.75H1191H1191.25H1191.5V563.22H1192H1192.25H1192.5V564.52H1192.75H1193H1193.5V565.82H1194H1194.25H1194.75V567.13H1195.25H1195.5H1196H1196.25V568.43H1196.75V567.13H1197.25V568.43H1197.5H1198H1198.5H1199V569.74H1199.25H1199.75H1200.25H1200.75H1201.25V571.04H1201.5H1202H1202.5H1203V572.34H1203.25H1203.75V573.65H1204.25H1204.75H1205H1205.25V574.95H1205.5H1205.75H1206V576.26H1206.25H1206.5H1206.75V577.56H1207H1207.25H1207.5V578.86H1207.75H1208H1208.25V580.17H1208.5H1208.75H1209V578.86H1209.25V577.56H1209.5V576.26H1209.75H1210V574.95H1210.25V573.65H1210.5H1210.75V572.34H1211H1211.25V571.04H1211.5V569.74H1211.75V568.43H1212V567.13H1212.25H1212.5H1212.75V565.82H1213H1213.25H1213.5V564.52H1213.75H1214V563.22H1214.25H1214.5H1214.75V561.91H1215H1215.25H1215.5H1215.75V560.61H1216H1216.25H1216.5V559.30H1216.75H1217H1217.5H1218H1218.5H1219V560.61H1219.5H1220H1220.5H1221H1221.5V559.30H1222V560.61H1222.5H1223H1223.5H1224H1224.5V561.91H1225H1225.5H1226H1226.5H1227H1227.5H1228H1228.5H1229H1229.5H1230H1230.5H1231H1231.5H1232H1232.25H1232.5V564.52H1232.75H1233H1233.5V565.82H1233.75H1234H1234.25V567.13H1234.5H1235H1235.5H1236H1236.5H1237H1237.5H1238.25H1238.75H1239.25H1239.75H1240.25H1240.75H1241.25H1241.75V568.43H1242.25H1242.75H1243H1243.25H1243.5H1243.75V569.74H1244H1244.25H1244.5V571.04H1244.75H1245V572.34H1245.25H1245.5V573.65H1245.75H1246H1246.25V574.95H1246.75H1247.25H1247.75H1248.25H1248.75H1249.25H1249.75H1250H1250.5H1251H1251.5H1252H1252.5V576.26H1253H1253.5H1254H1254.5H1255H1255.5H1256H1256.5H1257H1257.5H1258V577.56H1258.5H1258.75H1259.25H1259.75H1260.25H1260.75H1261.25V578.86H1261.75H1262.25H1262.75V580.17H1263.25H1263.5H1263.75V581.47H1264H1264.25V582.78H1264.5H1264.75V584.08H1265H1265.25H1265.75V585.38H1266H1266.5V586.69H1266.75H1267H1267.5V587.99H1267.75H1268H1268.5H1268.75V589.30H1269H1269.5H1269.75H1270V590.60H1270.25H1270.5H1270.75V591.90H1271H1271.25H1271.75V593.21H1272V591.90H1272.25V593.21H1272.5H1272.75V594.51V595.82H1273V597.12H1273.25V598.42H1273.75H1274.25H1274.75H1275.25V599.73H1275.75H1276.25H1276.75H1277.25H1277.75H1278.25V601.03H1278.75H1279.25H1279.75H1280.25H1280.5H1281V602.34H1281.25V603.64H1281.5H1282H1282.25H1282.75V604.94H1283H1283.5H1283.75H1284H1284.5H1285H1285.5H1285.75V606.25H1286.25V607.55H1286.75H1287.25H1287.75V608.86H1288H1288.5H1289H1289.5H1289.75H1290.25H1290.5V610.16V611.46H1290.75V612.77H1291V614.07H1291.25H1291.5V612.77H1291.75H1292.25H1292.5V611.46H1292.75H1293H1293.25V610.16H1293.5H1293.75H1294V608.86H1294.25V607.55V606.25V604.94H1294.5V603.64V602.34H1294.75V601.03V599.73V598.42V597.12H1295H1295.25V595.82H1295.5H1296H1296.25H1296.75V594.51H1297H1297.5H1297.75H1298H1298.5V593.21H1298.75V591.90H1299.25H1299.75H1300H1300.5H1301V590.60H1301.25H1301.75H1302.25H1302.5V589.30H1303V590.60H1303.5V589.30H1303.75V590.60H1304.25H1304.5H1305H1305.25V591.90H1305.75H1306.25H1306.5H1307V593.21H1307.25H1307.75H1308H1308.5V594.51H1308.75H1309V595.82H1309.25H1309.5H1309.75V597.12H1310H1310.5V598.42H1310.75V597.12H1311.25H1311.5H1312H1312.25V595.82H1312.75H1313H1313.5V594.51H1314H1314.5H1315H1315.5H1316H1316.5H1317H1317.5H1318H1318.5H1319H1319.5V595.82H1320H1320.5H1321H1321.5H1322H1322.5V594.51H1323H1323.5H1324H1324.5H1325V595.82H1325.75V594.51H1326.25V595.82H1326.75H1327.25H1327.75H1328.25V594.51H1329H1329.5H1330H1330.5H1331H1331.5H1332H1332.5H1333H1333.5H1334H1334.5H1335.25H1335.75H1336.25H1336.75H1337.25H1337.75H1338.25H1338.75H1339.25H1339.75H1340.25H1340.75H1341.25H1341.75H1342.25H1342.75H1343.25H1343.75H1344.25H1344.75H1345.25H1345.75H1346.25H1346.75H1347.5H1348H1348.5H1349H1349.5H1350H1350.5H1351H1351.5H1352H1352.5H1353V593.21H1353.5H1354H1354.5H1355H1355.5V594.51H1356H1356.5H1357H1357.5V593.21H1358H1358.5H1359H1359.5H1360H1360.5V594.51H1361H1361.5H1362H1362.5V593.21H1363H1363.5H1364H1364.5H1365H1365.5H1366V594.51H1366.5H1367H1367.5H1368H1368.5H1369H1369.5H1370H1370.5H1371H1371.5H1372H1372.5H1373H1373.5H1374H1374.5H1375H1375.5H1376H1376.5V593.21H1377H1377.5H1378H1378.5H1379H1379.5V594.51H1380H1380.5H1381H1381.5H1382H1382.5H1383V593.21H1383.5H1384H1384.5H1385H1385.5H1386H1386.5H1387H1387.5H1388H1388.5V594.51H1389H1389.5H1390V593.21H1390.5H1391H1391.5H1392H1392.5H1393H1393.5V594.51H1394H1394.5H1395H1395.5H1396H1396.5H1397V593.21H1397.5H1398H1398.5H1399V594.51H1399.5H1400H1400.5V593.21H1401H1401.5H1402H1402.5H1403H1403.5H1404H1404.5H1405H1405.5H1406H1406.5V594.51H1407H1407.5H1408H1408.5H1409H1409.5H1410H1410.5H1411H1411.5H1412V593.21H1412.5H1413H1413.5H1414H1414.5H1415H1415.5V594.51H1416H1416.5H1417H1417.5H1418H1418.5H1419H1419.5H1420H1420.5H1421H1421.5H1422H1422.5H1423H1423.5H1424V593.21H1424.5H1425H1425.5H1426H1426.5H1427H1427.5H1428H1428.5H1429H1429.5H1430H1430.5H1431H1431.5H1432V594.51H1432.5H1433H1433.5H1434H1434.5H1435H1435.5H1436H1436.5H1437H1437.5H1438H1438.5H1439H1439.5H1440H1440.5H1441H1441.5H1442H1442.5H1443H1443.5H1444V593.21H1444.5H1445H1445.5H1446V594.51H1446.5H1447H1447.5V593.21H1448H1448.5H1449H1449.5V594.51H1450H1450.5H1451H1451.5H1452H1452.5V593.21H1453H1453.5H1454H1454.5H1455H1455.5V594.51H1456H1456.5H1457H1457.5H1458V593.21H1458.5H1459H1459.5H1460V594.51H1460.5H1461H1461.5H1462H1462.5H1463V593.21H1463.5H1464H1464.5H1465H1465.5H1466H1466.5H1467H1467.5H1468H1468.5H1469H1469.5V594.51H1470H1470.5H1471H1471.5H1472H1472.5H1473H1473.5H1474H1474.5H1475H1475.5V593.21H1476H1476.5H1477H1477.5H1478H1478.5H1479H1479.5H1480H1480.5H1481V594.51H1481.5H1482H1482.5H1483V593.21H1483.5H1484H1484.5H1485H1485.5H1486H1486.5H1487H1487.5H1488H1488.5H1489V594.51H1489.5H1490H1490.5H1491H1491.5H1492H1492.5H1493H1493.5V593.21H1494H1494.5H1495H1495.5H1496H1496.5H1497V594.51H1497.5H1498H1498.5H1499H1499.5H1500H1500.5H1501H1501.5V593.21H1502H1502.5H1503H1503.5H1504H1504.5V594.51H1505H1505.5H1506H1506.5H1507H1507.5H1508H1508.5H1509H1509.5H1510H1510.5H1511H1511.5H1512H1512.5H1513H1513.5H1514H1514.5H1515H1515.5H1516H1516.5H1517H1517.5H1518H1518.5H1519H1519.5H1520H1520.5H1521H1521.5H1522H1522.5H1523H1523.5H1524V593.21" fill="none" stroke="#262f96" stroke-width="5.0" stroke-linejoin="miter" stroke-linecap="square"/>
<circle cx="1527" cy="593.2" r="8.1" fill="#000" fill-opacity="0.6"/>

<!-- brush -->
<rect x="102" y="839.5" width="229.3" height="29.3" fill="#007a28"/>
<rect x="331.3" y="839.5" width="1195.7" height="29.3" fill="#90cdf8"/>

<!-- bottom axis -->
<g stroke="#6a6a6a" stroke-width="1.5">
<line x1="173.8" y1="877" x2="173.8" y2="885.5"/>
<line x1="404" y1="876.6" x2="404" y2="885.5"/>
<line x1="642.1" y1="876.6" x2="642.1" y2="885.5"/>
<line x1="880.3" y1="876.6" x2="880.3" y2="885.5"/>
<line x1="1122.6" y1="876.6" x2="1122.6" y2="885.5"/>
<line x1="1360.6" y1="876.6" x2="1360.6" y2="885.5"/>
</g>
<line x1="101.7" y1="876.6" x2="1527" y2="876.6" stroke="#3a3a3a" stroke-width="1.8"/>
<g font-size="21" fill="#1a1a1a" text-anchor="middle">
<text x="173.8" y="904">Jan 2023</text>
<text x="404" y="904">Mar 2023</text>
<text x="642.1" y="904">May 2023</text>
<text x="880.3" y="904">Jul 2023</text>
<text x="1122.6" y="904">Sep 2023</text>
<text x="1360.6" y="904">Nov 2023</text>
</g>
</svg>
</body></html>
